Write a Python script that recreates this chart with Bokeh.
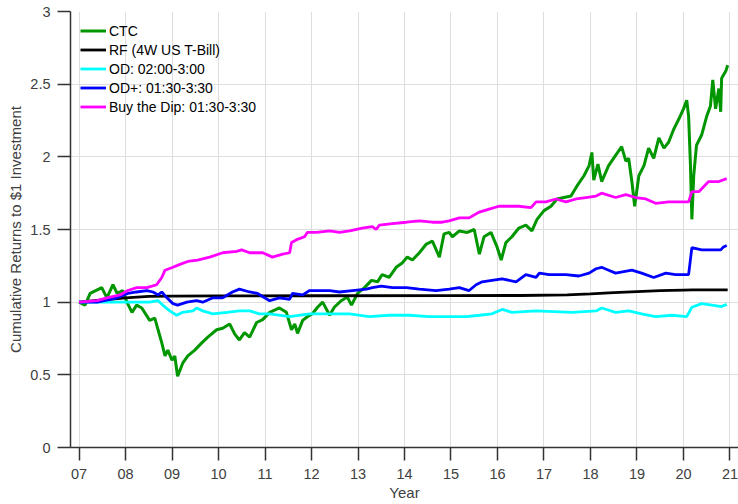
from bokeh.plotting import figure
from bokeh.models import Range1d, FixedTicker, Legend, LegendItem
from bokeh.embed import file_html
from bokeh.resources import INLINE

# ---------------- data ----------------
year_ticks = [7, 8, 9, 10, 11, 12, 13, 14, 15, 16, 17, 18, 19, 20, 21]
year_labels = ["07", "08", "09", "10", "11", "12", "13", "14", "15", "16", "17", "18", "19", "20", "21"]
value_ticks = [0, 0.5, 1, 1.5, 2, 2.5, 3]
value_labels = ["0", "0.5", "1", "1.5", "2", "2.5", "3"]

ctc_x = [7.00, 7.13, 7.24, 7.49, 7.60, 7.73, 7.82, 7.94, 8.03, 8.14, 8.24, 8.35, 8.52, 8.63, 8.70,
         8.78, 8.85, 8.91, 9.00, 9.06, 9.12, 9.23, 9.34, 9.49, 9.64, 9.77, 9.96, 10.09, 10.24, 10.35,
         10.45, 10.56, 10.67, 10.82, 10.95, 11.10, 11.31, 11.46, 11.57, 11.64, 11.70, 11.81, 11.91,
         12.02, 12.13, 12.24, 12.39, 12.49, 12.64, 12.77, 12.86, 12.99, 13.14, 13.29, 13.42, 13.52,
         13.67, 13.82, 13.95, 14.06, 14.17, 14.32, 14.47, 14.60, 14.75, 14.85, 14.96, 15.03, 15.18,
         15.35, 15.50, 15.61, 15.71, 15.86, 15.99, 16.08, 16.18, 16.31, 16.46, 16.61, 16.74, 16.85,
         17.00, 17.15, 17.28, 17.43, 17.58, 17.71, 17.86, 17.97, 18.03, 18.07, 18.16, 18.24, 18.39,
         18.54, 18.67, 18.76, 18.82, 18.89, 18.95, 19.04, 19.15, 19.25, 19.36, 19.47, 19.58, 19.68,
         19.79, 19.90, 20.00, 20.07, 20.11, 20.15, 20.18, 20.22, 20.28, 20.39, 20.50, 20.58, 20.63,
         20.69, 20.76, 20.80, 20.82, 20.91, 20.95]
ctc_y = [1.00, 0.98, 1.06, 1.10, 1.03, 1.12, 1.06, 1.08, 1.00, 0.93, 0.98, 0.96, 0.875, 0.89, 0.81,
         0.72, 0.63, 0.67, 0.60, 0.63, 0.49, 0.58, 0.63, 0.67, 0.72, 0.76, 0.81, 0.82, 0.85, 0.78,
         0.74, 0.79, 0.76, 0.86, 0.88, 0.93, 0.96, 0.93, 0.81, 0.85, 0.785, 0.875, 0.90,
         0.92, 0.965, 1.00, 0.91, 0.965, 1.01, 1.035, 0.98, 1.06, 1.10, 1.15, 1.14, 1.19,
         1.17, 1.24, 1.27, 1.31, 1.29, 1.34, 1.40, 1.42, 1.31, 1.47, 1.48, 1.45, 1.49,
         1.48, 1.50, 1.33, 1.45, 1.48, 1.38, 1.29, 1.41, 1.45, 1.51, 1.53, 1.49, 1.57,
         1.63, 1.66, 1.71, 1.72, 1.73, 1.80, 1.87, 1.94, 2.03, 1.84, 1.95, 1.83, 1.94,
         2.01, 2.07, 1.97, 1.99, 1.83, 1.66, 1.87, 1.94, 2.06, 1.99, 2.13, 2.06, 2.10,
         2.19, 2.26, 2.33, 2.39, 2.28, 1.94, 1.57, 1.87, 2.08, 2.15, 2.28, 2.35, 2.53,
         2.33, 2.47, 2.31, 2.54, 2.59, 2.63]

rf_x = [7.00, 7.50, 8.00, 8.50, 9.00, 10.00, 12.00, 15.00, 16.50, 17.50, 18.00, 18.50, 19.00,
        19.50, 20.00, 20.20, 20.95]
rf_y = [1.00, 1.015, 1.03, 1.04, 1.042, 1.043, 1.044, 1.045, 1.046, 1.05, 1.057, 1.065, 1.072,
        1.079, 1.083, 1.084, 1.084]

od_x = [7.00, 7.39, 7.82, 8.31, 8.52, 8.70, 8.80, 8.95, 9.10, 9.23, 9.45, 9.53, 9.66, 9.88, 10.18,
        10.45, 10.67, 10.88, 11.10, 11.53, 11.96, 12.39, 12.82, 13.24, 13.67, 14.10, 14.53, 14.96,
        15.33, 15.61, 15.88, 16.10, 16.31, 16.83, 17.60, 18.12, 18.24, 18.54, 18.82, 19.10, 19.40,
        19.75, 20.07, 20.18, 20.39, 20.61, 20.82, 20.93]
od_y = [1.00, 1.00, 1.00, 1.00, 1.00, 1.01, 0.98, 0.94, 0.91, 0.93, 0.94, 0.96, 0.94, 0.92, 0.93,
        0.94, 0.94, 0.92, 0.92, 0.90, 0.92, 0.92, 0.92, 0.90, 0.91, 0.91, 0.90, 0.90,
        0.90, 0.91, 0.92, 0.95, 0.93, 0.94, 0.93, 0.94, 0.96, 0.93, 0.94, 0.92, 0.90,
        0.91, 0.90, 0.965, 0.99, 0.98, 0.97, 0.985]

odp_x = [7.00, 7.39, 7.82, 8.05, 8.24, 8.46, 8.59, 8.70, 8.78, 8.89, 9.02, 9.12, 9.32, 9.53, 9.66,
         9.88, 10.09, 10.30, 10.45, 10.67, 10.84, 11.10, 11.31, 11.53, 11.59, 11.81, 11.96, 12.17,
         12.39, 12.60, 12.88, 13.18, 13.31, 13.50, 13.74, 14.04, 14.32, 14.68, 14.96, 15.18, 15.39,
         15.54, 15.67, 15.88, 16.10, 16.40, 16.61, 16.83, 16.90, 17.11, 17.47, 17.75, 17.97, 18.12,
         18.24, 18.39, 18.54, 18.89, 19.10, 19.36, 19.62, 19.83, 20.11, 20.18, 20.39, 20.61, 20.80,
         20.86, 20.93]
odp_y = [1.00, 1.00, 1.03, 1.06, 1.07, 1.08, 1.07, 1.05, 1.07, 1.03, 0.99, 0.98, 1.00, 1.01, 1.00,
         1.03, 1.03, 1.07, 1.09, 1.07, 1.06, 1.01, 1.03, 1.02, 1.06, 1.05, 1.08, 1.08,
         1.08, 1.07, 1.08, 1.09, 1.10, 1.11, 1.10, 1.10, 1.09, 1.08, 1.09, 1.10, 1.08,
         1.12, 1.14, 1.15, 1.16, 1.14, 1.19, 1.17, 1.20, 1.19, 1.19, 1.18, 1.20, 1.23,
         1.24, 1.22, 1.20, 1.22, 1.20, 1.17, 1.20, 1.19, 1.19, 1.375, 1.36, 1.36, 1.36,
         1.38, 1.39]

btd_x = [7.00, 7.39, 7.60, 7.88, 8.05, 8.24, 8.46, 8.67, 8.78, 8.85, 9.02, 9.17, 9.34, 9.55, 9.81,
         10.09, 10.39, 10.50, 10.67, 10.95, 11.16, 11.38, 11.53, 11.57, 11.68, 11.85, 11.91, 12.11,
         12.39, 12.60, 12.82, 13.09, 13.31, 13.39, 13.46, 13.74, 14.04, 14.32, 14.60, 14.81, 14.96,
         15.18, 15.39, 15.61, 15.82, 16.03, 16.25, 16.46, 16.72, 16.83, 17.04, 17.26, 17.47, 17.69,
         17.90, 18.12, 18.24, 18.54, 18.76, 18.97, 19.19, 19.40, 19.68, 19.90, 20.11, 20.18, 20.33,
         20.54, 20.76, 20.93]
btd_y = [1.00, 1.01, 1.03, 1.05, 1.08, 1.10, 1.10, 1.12, 1.17, 1.22, 1.24, 1.26, 1.28, 1.29, 1.31,
         1.34, 1.35, 1.36, 1.34, 1.34, 1.31, 1.33, 1.34, 1.41, 1.43, 1.45, 1.48, 1.48,
         1.49, 1.48, 1.49, 1.51, 1.52, 1.50, 1.53, 1.54, 1.55, 1.56, 1.55, 1.55, 1.56,
         1.58, 1.58, 1.62, 1.64, 1.66, 1.66, 1.66, 1.65, 1.69, 1.69, 1.71, 1.69, 1.71,
         1.72, 1.73, 1.75, 1.72, 1.74, 1.72, 1.71, 1.68, 1.69, 1.69, 1.69, 1.76, 1.76,
         1.83, 1.83, 1.85]

series = [
    ("CTC", ctc_x, ctc_y, "#009600", 3.0),
    ("RF (4W US T-Bill)", rf_x, rf_y, "#000000", 2.8),
    ("OD: 02:00-3:00", od_x, od_y, "#00FFFF", 2.8),
    ("OD+: 01:30-3:30", odp_x, odp_y, "#0000FF", 2.8),
    ("Buy the Dip: 01:30-3:30", btd_x, btd_y, "#FF00FF", 2.8),
]

# ---------------- figure ----------------
FONT = "Liberation Sans"
AX = "#333333"

p = figure(width=738, height=504, output_backend="svg", toolbar_location=None,
           x_range=Range1d(6.817, 21.183), y_range=Range1d(0, 3),
           min_border_left=70, min_border_right=0, min_border_top=11, min_border_bottom=57)
p.outline_line_color = None
p.background_fill_color = "white"

items = []
for name, xs, ys, col, lw in series:
    r = p.line(xs, ys, line_color=col, line_width=lw)
    items.append(LegendItem(label=name, renderers=[r]))

legend = Legend(items=items, location="top_left")
legend.background_fill_alpha = 0
legend.border_line_color = None
legend.margin = 10
legend.padding = 10
legend.spacing = 0
legend.label_height = 19
legend.glyph_height = 19
legend.glyph_width = 26
legend.label_standoff = 3
legend.label_text_font = FONT
legend.label_text_font_size = "14px"
legend.label_text_color = "#000000"
p.add_layout(legend)

# axes
for ax in (p.xaxis[0], p.yaxis[0]):
    ax.axis_line_color = AX
    ax.axis_line_width = 1.5
    ax.major_tick_line_color = AX
    ax.major_tick_line_width = 1.5
    ax.major_tick_out = 13
    ax.major_tick_in = 0
    ax.minor_tick_out = 0
    ax.minor_tick_in = 0
    ax.major_label_text_font = FONT
    ax.major_label_text_font_size = "14.5px"
    ax.major_label_text_color = "#404040"
    ax.axis_label_text_font = FONT
    ax.axis_label_text_font_size = "15px"
    ax.axis_label_text_font_style = "normal"
    ax.axis_label_text_color = "#404040"

p.xaxis.ticker = FixedTicker(ticks=year_ticks)
p.xaxis.major_label_overrides = {t: l for t, l in zip(year_ticks, year_labels)}
p.xaxis.axis_label = "Year"
p.xaxis.major_label_standoff = 8
p.xaxis.axis_label_standoff = 2

p.yaxis.ticker = FixedTicker(ticks=value_ticks)
p.yaxis.major_label_overrides = {t: l for t, l in zip(value_ticks, value_labels)}
p.yaxis.axis_label = "Cumulative Returns to $1 Investment"
p.yaxis.major_label_standoff = 7
p.yaxis.axis_label_standoff = 3

p.xgrid.ticker = FixedTicker(ticks=year_ticks)
p.ygrid.ticker = FixedTicker(ticks=value_ticks)
for g in (p.xgrid[0], p.ygrid[0]):
    g.grid_line_color = "#dedede"
    g.grid_line_width = 1

open("out.html", "w").write(file_html(p, INLINE))
